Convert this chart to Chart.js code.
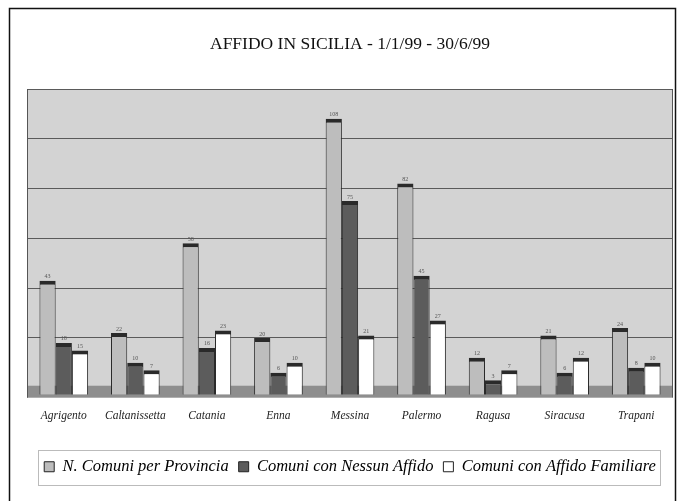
<!DOCTYPE html>
<html>
<head>
<meta charset="utf-8">
<script src="https://cdn.jsdelivr.net/npm/chart.js@4.4.0/dist/chart.umd.min.js"></script>
<style>
html,body{margin:0;padding:0;background:#fff;}
#wrap{width:683px;height:501px;position:relative;}
</style>
</head>
<body>
<div id="wrap"><canvas id="c" width="683" height="501"></canvas></div>
<script>
const categories = ['Agrigento','Caltanissetta','Catania','Enna','Messina','Palermo','Ragusa','Siracusa','Trapani'];
const comuniPerProvincia = [43, 22, 58, 20, 108, 82, 12, 21, 24];
const comuniNessunAffido = [18, 10, 16, 6, 75, 45, 3, 6, 8];
const comuniAffidoFamiliare = [15, 7, 23, 10, 21, 27, 7, 12, 10];
const seriesNames = ['N. Comuni per Provincia','Comuni con Nessun Affido','Comuni con Affido Familiare'];
const gridTicks = [20, 40, 60, 80, 100, 120];
const axisMin = -2.8, axisMax = 120;

const SERIF = "'Liberation Serif', 'DejaVu Serif', serif";

const decor = {
  id: 'decor',
  beforeDraw(chart) {
    const {ctx, chartArea: a} = chart;
    ctx.save();
    ctx.fillStyle = '#d3d3d3';
    ctx.fillRect(a.left, a.top, a.right - a.left, a.bottom - a.top);
    ctx.restore();
  },
  beforeDatasetsDraw(chart) {
    const {ctx, chartArea: a, scales: {y}} = chart;
    const top = y.getPixelForValue(0.8);
    ctx.save();
    ctx.fillStyle = '#8e8e8e';
    ctx.fillRect(a.left - 1, top, a.right - a.left + 1, a.bottom + 3 - top);
    ctx.strokeStyle = '#555';
    ctx.lineWidth = 1;
    ctx.beginPath();
    ctx.moveTo(a.left - 0.5, a.top); ctx.lineTo(a.left - 0.5, a.bottom + 3);
    ctx.moveTo(a.right + 0.5, a.top); ctx.lineTo(a.right + 0.5, a.bottom + 3);
    ctx.stroke();
    ctx.restore();
  },
  afterDatasetsDraw(chart) {
    const {ctx} = chart;
    ctx.save();
    ctx.font = "6px " + SERIF;
    ctx.fillStyle = '#555';
    ctx.textAlign = 'center';
    ctx.textBaseline = 'bottom';
    chart.data.datasets.forEach((ds, i) => {
      chart.getDatasetMeta(i).data.forEach((bar, j) => {
        ctx.fillText(String(ds.data[j]), bar.x, bar.y - 1);
      });
    });
    ctx.restore();
  },
  afterDraw(chart) {
    const {ctx, legend} = chart;
    ctx.save();
    ctx.strokeStyle = '#111';
    ctx.lineWidth = 1.5;
    ctx.strokeRect(9.5, 8.5, 666, 510);
    if (legend && legend.legendHitBoxes && legend.legendHitBoxes.length) {
      const hb = legend.legendHitBoxes;
      const minX = Math.min(...hb.map(h => h.left));
      const maxX = Math.max(...hb.map(h => h.left + h.width));
      const cy = hb[0].top + hb[0].height / 2;
      ctx.strokeStyle = '#bbb';
      ctx.lineWidth = 1;
      ctx.strokeRect(Math.round(minX - 6) + 0.5, Math.round(cy - 17) + 0.5, Math.round(maxX - minX + 10), 35);
    }
    ctx.restore();
  }
};

new Chart(document.getElementById('c'), {
  type: 'bar',
  data: {
    labels: categories,
    datasets: [
      {label: seriesNames[0], data: comuniPerProvincia, backgroundColor: '#bdbdbd'},
      {label: seriesNames[1], data: comuniNessunAffido, backgroundColor: '#5c5c5c'},
      {label: seriesNames[2], data: comuniAffidoFamiliare, backgroundColor: '#ffffff'}
    ]
  },
  options: {
    responsive: false,
    animation: false,
    devicePixelRatio: 1,
    layout: {padding: {left: 28, right: 11, top: 0, bottom: 16}},
    datasets: {
      bar: {
        base: axisMin,
        categoryPercentage: 0.68,
        barPercentage: 1.0,
        borderColor: '#2a2a2a',
        borderWidth: {top: 4, left: 1, right: 1, bottom: 0},
        borderSkipped: false
      }
    },
    scales: {
      x: {
        grid: {display: false, drawTicks: false},
        border: {display: false},
        afterFit(scale) { scale.height += 12; },
        ticks: {font: {family: SERIF, size: 11.5, style: 'italic'}, color: '#222', padding: 14, maxRotation: 0, autoSkip: false}
      },
      y: {
        min: axisMin, max: axisMax,
        afterBuildTicks(scale) { scale.ticks = gridTicks.map(v => ({value: v})); },
        grid: {color: '#5a5a5a', lineWidth: 1, drawTicks: false},
        border: {display: false},
        ticks: {display: false}
      }
    },
    plugins: {
      title: {
        display: true,
        text: 'AFFIDO IN SICILIA - 1/1/99 - 30/6/99',
        font: {family: SERIF, size: 17.5, weight: 'normal'},
        color: '#111',
        padding: {top: 34, bottom: 34}
      },
      legend: {
        position: 'bottom',
        labels: {
          font: {family: SERIF, size: 16.5, style: 'italic'},
          color: '#111',
          boxWidth: 10, boxHeight: 10,
          padding: 10,
          generateLabels(chart) {
            return chart.data.datasets.map((ds, i) => ({
              text: ds.label, fillStyle: ds.backgroundColor, strokeStyle: '#222', lineWidth: 1, datasetIndex: i, hidden: false
            }));
          }
        }
      },
      tooltip: {enabled: false}
    }
  },
  plugins: [decor]
});
</script>
</body>
</html>
